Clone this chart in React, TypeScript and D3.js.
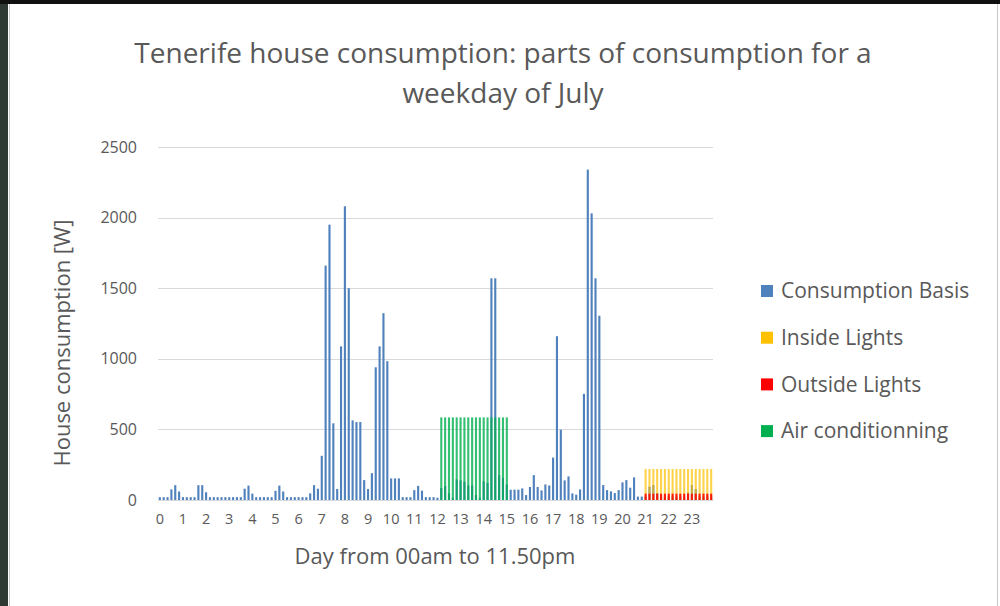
import React, { useRef, useEffect } from 'react';
import * as d3 from 'd3';

// 144 slots of 10 minutes, 00:00 .. 23:50
const slots: string[] = d3.range(144).map((i) => `${Math.floor(i / 6)}:${(i % 6) * 10}`);
const hourLabels = ['0', '1', '2', '3', '4', '5', '6', '7', '8', '9', '10', '11', '12', '13', '14', '15', '16', '17', '18', '19', '20', '21', '22', '23'];
const yTicks = [0, 500, 1000, 1500, 2000, 2500];

// one row per hour (6 x 10 min)
const basis = [
  20, 20, 20, 75, 105, 60,
  20, 20, 20, 20, 105, 105,
  55, 20, 20, 20, 20, 20,
  20, 20, 20, 20, 80, 102,
  45, 20, 20, 20, 20, 20,
  65, 102, 60, 20, 20, 20,
  20, 20, 20, 47, 105, 80,
  313, 1660, 1950, 543, 78, 1088,
  2080, 1500, 564, 552, 552, 141,
  78, 190, 940, 1088, 1323, 983,
  153, 153, 153, 20, 20, 20,
  70, 100, 66, 20, 20, 20,
  16, 85, 99, 47, 16, 146,
  139, 130, 103, 103, 35, 16,
  132, 122, 1570, 1570, 176, 157,
  110, 73, 73, 73, 82, 35,
  92, 176, 92, 68, 110, 103,
  300, 1160, 498, 139, 167, 47,
  38, 75, 752, 2340, 2030, 1570,
  1305, 106, 70, 61, 49, 70,
  125, 141, 87, 160, 24, 24,
  24, 94, 106, 49, 24, 24,
  24, 24, 24, 24, 24, 54,
  106, 78, 24, 24, 24, 24,
];

const insideLights = [
  0, 0, 0, 0, 0, 0, 0, 0, 0, 0, 0, 0, 0, 0, 0, 0, 0, 0, 0, 0, 0, 0, 0, 0, // 0-3h
  0, 0, 0, 0, 0, 0, 0, 0, 0, 0, 0, 0, 0, 0, 0, 0, 0, 0, 0, 0, 0, 0, 0, 0, // 4-7h
  0, 0, 0, 0, 0, 0, 0, 0, 0, 0, 0, 0, 0, 0, 0, 0, 0, 0, 0, 0, 0, 0, 0, 0, // 8-11h
  0, 0, 0, 0, 0, 0, 0, 0, 0, 0, 0, 0, 0, 0, 0, 0, 0, 0, 0, 0, 0, 0, 0, 0, // 12-15h
  0, 0, 0, 0, 0, 0, 0, 0, 0, 0, 0, 0, 0, 0, 0, 0, 0, 0, 0, 0, 0, 0, 0, 0, // 16-19h
  0, 0, 0, 0, 0, 0, // 20h
  220, 220, 220, 220, 220, 220, // 21h
  220, 220, 220, 220, 220, 220, // 22h
  220, 220, 220, 220, 220, 220, // 23h
];

const outsideLights = [
  0, 0, 0, 0, 0, 0, 0, 0, 0, 0, 0, 0, 0, 0, 0, 0, 0, 0, 0, 0, 0, 0, 0, 0,
  0, 0, 0, 0, 0, 0, 0, 0, 0, 0, 0, 0, 0, 0, 0, 0, 0, 0, 0, 0, 0, 0, 0, 0,
  0, 0, 0, 0, 0, 0, 0, 0, 0, 0, 0, 0, 0, 0, 0, 0, 0, 0, 0, 0, 0, 0, 0, 0,
  0, 0, 0, 0, 0, 0, 0, 0, 0, 0, 0, 0, 0, 0, 0, 0, 0, 0, 0, 0, 0, 0, 0, 0,
  0, 0, 0, 0, 0, 0, 0, 0, 0, 0, 0, 0, 0, 0, 0, 0, 0, 0, 0, 0, 0, 0, 0, 0,
  0, 0, 0, 0, 0, 0,
  45, 45, 45, 45, 45, 45,
  45, 45, 45, 45, 45, 45,
  45, 45, 45, 45, 45, 45,
];

const airConditioning = [
  0, 0, 0, 0, 0, 0, 0, 0, 0, 0, 0, 0, 0, 0, 0, 0, 0, 0, 0, 0, 0, 0, 0, 0, // 0-3h
  0, 0, 0, 0, 0, 0, 0, 0, 0, 0, 0, 0, 0, 0, 0, 0, 0, 0, 0, 0, 0, 0, 0, 0, // 4-7h
  0, 0, 0, 0, 0, 0, 0, 0, 0, 0, 0, 0, 0, 0, 0, 0, 0, 0, 0, 0, 0, 0, 0, 0, // 8-11h
  0, 585, 585, 585, 585, 585, // 12h
  585, 585, 585, 585, 585, 585, // 13h
  585, 585, 585, 585, 585, 585, // 14h
  585, 0, 0, 0, 0, 0, // 15h
  0, 0, 0, 0, 0, 0, 0, 0, 0, 0, 0, 0, 0, 0, 0, 0, 0, 0, 0, 0, 0, 0, 0, 0, // 16-19h
  0, 0, 0, 0, 0, 0, 0, 0, 0, 0, 0, 0, 0, 0, 0, 0, 0, 0, 0, 0, 0, 0, 0, 0, // 20-23h
];

const seriesNames = ['Consumption Basis', 'Inside Lights', 'Outside Lights', 'Air conditionning'];
const seriesValues = [basis, insideLights, outsideLights, airConditioning];
const seriesColors = ['#4f81bd', '#ffc000', '#ff0000', '#00b050'];
const seriesOpacity = [1, 0.7, 0.85, 0.8];

const FONT = '"Open Sans", sans-serif';
const TEXT = '#595959';

const App: React.FC = () => {
  const svgRef = useRef<SVGSVGElement>(null);

  useEffect(() => {
    if (!svgRef.current) return;
    const svg = d3.select(svgRef.current);
    svg.selectAll('*').remove();

    const width = 1000;
    const height = 606;
    const margin = { top: 147, right: 287, bottom: 106, left: 158 };
    const innerWidth = width - margin.left - margin.right;
    const innerHeight = height - margin.top - margin.bottom;

    // frame of the screenshot
    svg.append('rect').attr('width', width).attr('height', height).attr('fill', '#fff');
    svg.append('rect').attr('x', 0).attr('y', 0).attr('width', 8).attr('height', height).attr('fill', '#2e3a33');
    svg.append('rect').attr('x', 0).attr('y', 0).attr('width', width).attr('height', 4).attr('fill', '#111');
    svg.append('line').attr('x1', 9.5).attr('x2', 9.5).attr('y1', 4).attr('y2', height).attr('stroke', '#c8c8c8');
    svg.append('line').attr('x1', 997.5).attr('x2', 997.5).attr('y1', 4).attr('y2', height).attr('stroke', '#c8c8c8');

    const g = svg.append('g').attr('transform', `translate(${margin.left},${margin.top})`);

    const x = d3.scaleBand<string>().domain(slots).range([0, innerWidth]).paddingInner(0.45).paddingOuter(0.2);
    const y = d3.scaleLinear().domain([0, 2500]).range([innerHeight, 0]);

    // grid
    g.append('g')
      .selectAll('line')
      .data(yTicks)
      .enter()
      .append('line')
      .attr('x1', 0)
      .attr('x2', innerWidth)
      .attr('y1', (d) => Math.round(y(d)) + 0.5)
      .attr('y2', (d) => Math.round(y(d)) + 0.5)
      .attr('stroke', '#d9d9d9')
      .attr('stroke-width', 1.2);

    // y tick labels
    g.append('g')
      .selectAll('text')
      .data(yTicks)
      .enter()
      .append('text')
      .attr('x', -21)
      .attr('y', (d) => y(d))
      .attr('dy', '0.35em')
      .attr('text-anchor', 'end')
      .style('font-family', FONT)
      .style('font-size', '16px')
      .style('fill', TEXT)
      .text((d) => d);

    // bars, series drawn in order (later ones on top)
    seriesValues.forEach((vals, s) => {
      g.append('g')
        .selectAll('rect')
        .data(vals.map((v, i) => ({ slot: slots[i], v })).filter((d) => d.v > 0))
        .enter()
        .append('rect')
        .attr('x', (d) => x(d.slot) as number)
        .attr('width', x.bandwidth())
        .attr('y', (d) => y(d.v))
        .attr('height', (d) => innerHeight - y(d.v))
        .attr('fill', seriesColors[s])
        .attr('fill-opacity', seriesOpacity[s]);
    });

    // x axis
    const xAxis = g
      .append('g')
      .attr('transform', `translate(0,${innerHeight})`)
      .call(
        d3
          .axisBottom(x)
          .tickValues(slots.filter((_, i) => i % 6 === 0))
          .tickFormat((_, i) => hourLabels[i])
          .tickSize(0)
          .tickPadding(14)
      );
    xAxis.select('.domain').attr('stroke', '#d9d9d9').attr('stroke-width', 1.2);
    xAxis
      .selectAll('text')
      .style('font-family', FONT)
      .style('font-size', '14.5px')
      .style('fill', TEXT);

    // axis titles
    svg
      .append('text')
      .attr('x', 435)
      .attr('y', 564)
      .attr('text-anchor', 'middle')
      .style('font-family', FONT)
      .style('font-size', '22px')
      .style('fill', TEXT)
      .text('Day from 00am to 11.50pm');

    svg
      .append('text')
      .attr('transform', 'translate(70,343) rotate(-90)')
      .attr('text-anchor', 'middle')
      .style('font-family', FONT)
      .style('font-size', '22px')
      .style('fill', TEXT)
      .text('House consumption [W]');

    // title
    const title = svg
      .append('text')
      .attr('text-anchor', 'middle')
      .style('font-family', FONT)
      .style('font-size', '28px')
      .style('fill', TEXT);
    title.append('tspan').attr('x', 503).attr('y', 63).text('Tenerife house consumption: parts of consumption for a');
    title.append('tspan').attr('x', 503).attr('y', 103).text('weekday of July');

    // legend
    const legend = svg
      .append('g')
      .selectAll('g')
      .data(seriesNames)
      .enter()
      .append('g')
      .attr('transform', (_, i) => `translate(761,${291 + i * 46.7})`);
    legend
      .append('rect')
      .attr('x', 0)
      .attr('y', -6)
      .attr('width', 12)
      .attr('height', 12)
      .attr('fill', (_, i) => seriesColors[i]);
    legend
      .append('text')
      .attr('x', 20)
      .attr('y', 0)
      .attr('dy', '0.35em')
      .style('font-family', FONT)
      .style('font-size', '21px')
      .style('fill', TEXT)
      .text((d) => d);
  }, []);

  return (
    <div style={{ position: 'absolute', left: 0, top: 0 }}>
      <svg ref={svgRef} width={1000} height={606} style={{ display: 'block' }} />
    </div>
  );
};

export default App;
